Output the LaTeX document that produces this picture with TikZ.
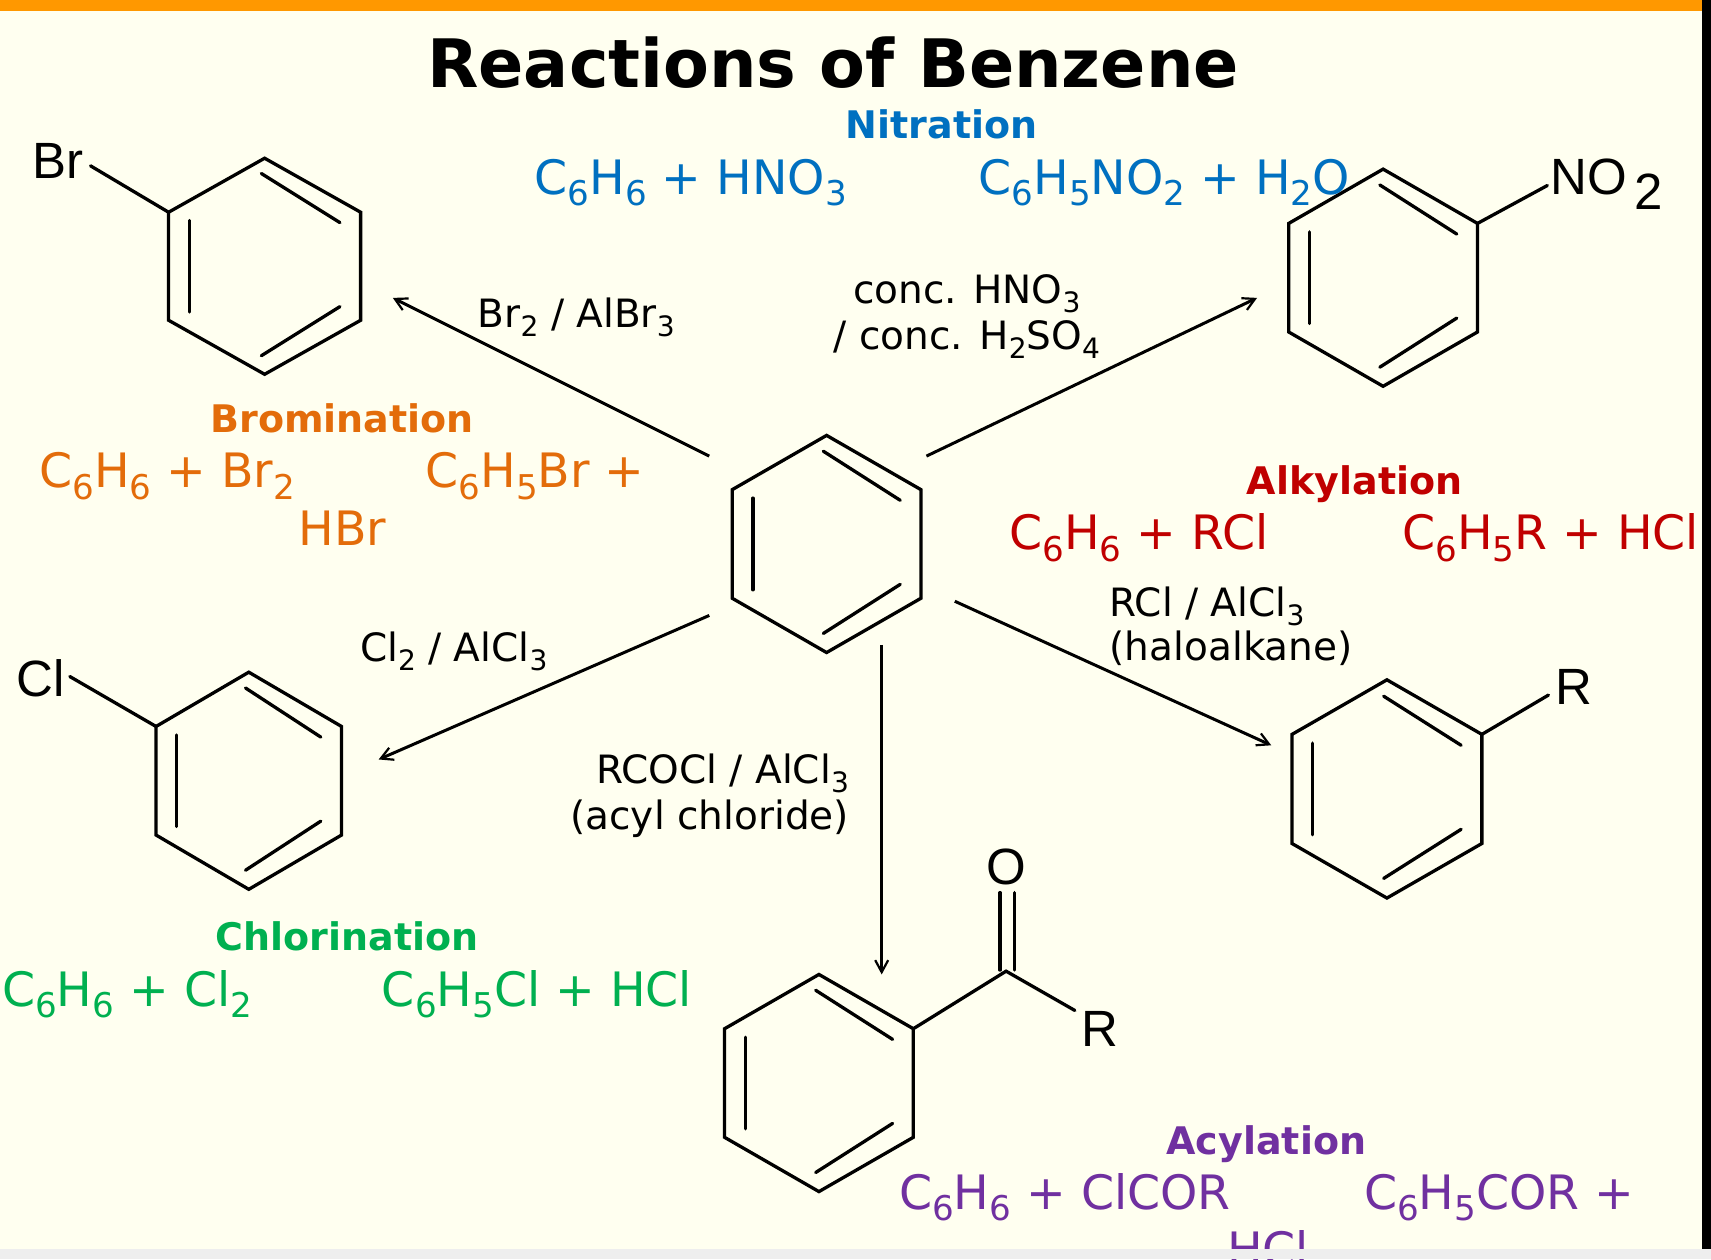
\documentclass[tikz,border=0pt]{standalone}
\usepackage{fontspec}
\setmainfont{DejaVu Sans}
\newfontfamily\atomfont{Liberation Sans}
\usetikzlibrary{arrows.meta}
\definecolor{paper}{HTML}{FFFFF0}
\definecolor{barorange}{HTML}{FF9800}
\definecolor{bargray}{HTML}{EEEEEE}
\definecolor{nitroblue}{HTML}{0070C0}
\definecolor{bromorange}{HTML}{E36C0A}
\definecolor{alkred}{HTML}{C00000}
\definecolor{chlorgreen}{HTML}{00B050}
\definecolor{acylpurple}{HTML}{7030A0}
\newcommand\sbt[1]{\raisebox{-0.24em}{\scalebox{0.72}{#1}}}
\tikzset{
  txt/.style={inner sep=0pt,outer sep=0pt,anchor=base},
  eqn/.style={txt,font=\fontsize{47.4}{56}\selectfont},
  eqnl/.style={eqn,anchor=base west},
  head/.style={txt,font=\bfseries\fontsize{38}{44}\selectfont},
  reag/.style={txt,font=\fontsize{39}{44}\selectfont},
  atom/.style={inner sep=0pt,outer sep=0pt,anchor=base,font=\atomfont\fontsize{51}{56}\selectfont},
  bond/.style={line width=3.3pt,line cap=round,line join=miter},
  rx/.style={line width=3pt,-{Straight Barb[length=12pt,width=13pt,line width=2.2pt]}},
}
% ring: name, cx, cy, half width, half height
\newcommand\ring[5]{%
  \begin{scope}[shift={(#2,#3)}]
    \coordinate (#1-t) at (0,-#5);
    \coordinate (#1-ur) at (#4,-#5/2);
    \coordinate (#1-lr) at (#4,#5/2);
    \coordinate (#1-b) at (0,#5);
    \coordinate (#1-ll) at (-#4,#5/2);
    \coordinate (#1-ul) at (-#4,-#5/2);
    \draw[bond] (#1-t)--(#1-ur)--(#1-lr)--(#1-b)--(#1-ll)--(#1-ul)--cycle;
    \draw[bond] (-#4+19,-42) -- (-#4+19,42);
    \draw[bond] (-3,-85) -- (#4-19,-40);
    \draw[bond] (#4-19,37) -- (-3,82);
  \end{scope}}
\begin{document}
\begin{tikzpicture}[x=1.0912pt,y=-1.0912pt]
\useasboundingbox (0,0) rectangle (1568,1153.8);
\fill[paper] (0,0) rectangle (1568,1153.8);
\fill[barorange] (0,0) rectangle (1568,10);
\fill[black] (1560,0) rectangle (1568,1153.8);

% title
\node[txt,font=\bfseries\fontsize{66.8}{76}\selectfont] (title) at (763.5,80) {Reactions of Benzene};

% rings
\ring{ben}{757.5}{498.5}{86.5}{99.5}
\ring{bro}{242.5}{244}{88}{99}
\ring{nit}{1267.5}{254.5}{86.5}{99.5}
\ring{chl}{228}{715.5}{85}{99.5}
\ring{alk}{1271}{723}{87}{100}
\ring{acy}{750.5}{992.5}{86.5}{99.5}

% atoms
\node[atom] (brA) at (53,164) {Br};
\coordinate (brB) at (83,152);
\draw[bond] (bro-ul) -- (brB);
\node[atom,anchor=base west] (noA) at (1421,178) {NO};
\node[atom,anchor=base west] (noB) at (1498,192) {2};
\coordinate (noC) at (1418,170);
\draw[bond] (nit-ur) -- (noC);
\node[atom] (clA) at (37,638) {Cl};
\coordinate (clB) at (64,620);
\draw[bond] (chl-ul) -- (clB);
\node[atom] (rA) at (1442,646) {R};
\coordinate (rB) at (1419,637);
\draw[bond] (alk-ur) -- (rB);
\node[atom] (oA) at (922,811) {O};
\node[atom] (rC) at (1008,959) {R};
\coordinate (coC) at (922,890);
\coordinate (coR) at (985,926);
\draw[bond] (acy-ur) -- (coC) -- (coR);
\draw[bond] (916.5,889) -- (916.5,818);
\draw[bond] (930,889) -- (930,818);

% connectors
\coordinate (a1) at (650,418); \coordinate (a1e) at (360,273);
\coordinate (a2) at (849,418); \coordinate (a2e) at (1152,273);
\coordinate (a3) at (650,564); \coordinate (a3e) at (347,696);
\coordinate (a4) at (875,551); \coordinate (a4e) at (1165,683);
\coordinate (a5) at (808,591); \coordinate (a5e) at (808,893);
\draw[rx] (a1) -- (a1e);
\draw[rx] (a2) -- (a2e);
\draw[rx] (a3) -- (a3e);
\draw[rx] (a4) -- (a4e);
\draw[rx] (a5) -- (a5e);

% reagents
\node[reag,anchor=base west] (r1) at (438,300) {Br\sbt{2} / AlBr\sbt{3}};
\node[reag] (r2) at (886,278) {conc. HNO\sbt{3}};
\node[reag] (r2b) at (886,320) {/ conc. H\sbt{2}SO\sbt{4}};
\node[reag,anchor=base west] (r3) at (1017,565) {RCl / AlCl\sbt{3}};
\node[reag,anchor=base west] (r3b) at (1017,605) {(haloalkane)};
\node[reag,anchor=base west] (r4) at (330,606) {Cl\sbt{2} / AlCl\sbt{3}};
\node[reag,anchor=base east] (r5) at (778,718) {RCOCl / AlCl\sbt{3}};
\node[reag,anchor=base east] (r5b) at (778,760) {(acyl chloride)};

% nitration
\begin{scope}[text=nitroblue]
\node[head] (hn) at (863,127) {Nitration};
\node[eqnl] (en1) at (490,178) {C\sbt{6}H\sbt{6} + HNO\sbt{3}};
\node[eqnl] (en2) at (897,178) {C\sbt{6}H\sbt{5}NO\sbt{2} + H\sbt{2}O};
\end{scope}
% bromination
\begin{scope}[text=bromorange]
\node[head] (hb) at (313.5,396) {Bromination};
\node[eqnl] (eb1) at (36,447) {C\sbt{6}H\sbt{6} + Br\sbt{2}};
\node[eqnl] (eb2) at (390,447) {C\sbt{6}H\sbt{5}Br +};
\node[eqn] (eb3) at (314,500) {HBr};
\end{scope}
% alkylation
\begin{scope}[text=alkred]
\node[head] (ha) at (1241.5,453) {Alkylation};
\node[eqnl] (ea1) at (925,504) {C\sbt{6}H\sbt{6} + RCl};
\node[eqnl] (ea2) at (1285,504) {C\sbt{6}H\sbt{5}R + HCl};
\end{scope}
% chlorination
\begin{scope}[text=chlorgreen]
\node[head] (hc) at (318,871) {Chlorination};
\node[eqnl] (ec1) at (2,922) {C\sbt{6}H\sbt{6} + Cl\sbt{2}};
\node[eqnl] (ec2) at (350,922) {C\sbt{6}H\sbt{5}Cl + HCl};
\end{scope}
% acylation
\begin{scope}[text=acylpurple]
\node[head] (hy) at (1160.5,1058) {Acylation};
\node[eqnl] (ey1) at (824,1108) {C\sbt{6}H\sbt{6} + ClCOR};
\node[eqnl] (ey2) at (1250,1108) {C\sbt{6}H\sbt{5}COR +};
\node[eqn] (ey3) at (1162,1161) {HCl};
\end{scope}

\fill[bargray] (0,1145) rectangle (1568,1153.8);
\end{tikzpicture}
\end{document}
